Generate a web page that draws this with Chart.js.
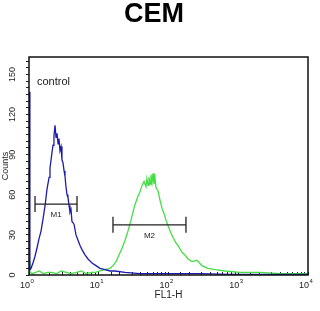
<!DOCTYPE html>
<html>
<head>
<meta charset="utf-8">
<script src="https://cdn.jsdelivr.net/npm/chart.js@4"></script>
<style>
  html, body { margin: 0; padding: 0; background: #fff; }
  #wrap { width: 320px; height: 311px; }
</style>
</head>
<body>
<div id="wrap"><canvas id="histo" width="320" height="311"></canvas></div>
<script>
// control (blue) histogram, FL1-H channel value vs counts
const controlX = [1, 1.03, 1.07, 1.14, 1.22, 1.3, 1.39, 1.49, 1.59, 1.7, 1.81, 1.94, 2.0, 2.07,
  2.14, 2.21, 2.28, 2.36, 2.44, 2.52, 2.61, 2.69, 2.78, 2.88, 2.97, 3.07, 3.18, 3.28, 3.39,
  3.51, 3.62, 3.75, 3.87, 4.0, 4.13, 4.42, 4.72, 5.04, 5.39, 5.75, 6.35, 7.02, 8.0, 9.13,
  10.4, 12.3, 14.5, 17.1, 23.8, 38.9, 75.2, 145, 283, 763, 2050, 5000, 10000];
const controlCounts = [137, 4, 5, 9, 14, 20, 27, 33, 42, 52, 64, 73, 80, 86,
  92, 97, 104, 112, 103, 106, 98, 102, 93, 96, 86, 84, 78, 74, 66,
  60, 58, 52, 47, 49, 40, 38, 30, 26, 22, 19, 15, 12, 9, 7,
  5, 4, 3, 3, 2, 1, 1, 1, 1, 0.5, 0.5, 0.5, 0.5];

// CEM sample (green) histogram
const sampleX = [1, 1.03, 1.12, 1.25, 1.4, 1.6, 1.85, 2.1, 2.5, 2.9, 3.4, 4.0, 4.8, 5.6, 6.6, 7.8,
  9.0, 10.4, 12.3, 14.5, 16.0, 17.7, 19.5, 21.6, 23.8, 26.3, 29.0, 32.0, 35.3, 38.9,
  41.7, 44.6, 47.5, 49.0, 50.9, 52.5, 54.3, 56.0, 58.0, 60.0, 61.9, 64.0, 66.3, 70.7, 75.5,
  80.6, 86.2, 92.0, 98.3, 105, 116, 128, 141, 156, 172, 190, 217, 256, 302, 368, 464, 647,
  1060, 2050, 3970, 7700, 10000];
const sampleCounts = [10, 2, 1, 2, 3, 1, 2, 2, 1, 3, 2, 1, 2, 3, 1, 2,
  2, 3, 4, 5, 7, 10, 15, 20, 26, 33, 41, 50, 57, 62,
  67, 70, 66, 72, 67, 73, 68, 75, 69, 76, 68, 73, 65, 63, 56,
  50, 46, 41, 37, 33, 28, 24, 21, 17, 15, 12, 10, 11, 7, 5, 4, 3,
  2, 2, 1, 1, 1];

// marker gates
const markerNames = ["M1", "M2"];
const markerStart = [1.22, 16];
const markerEnd = [4.88, 178];
const markerLevel = [53, 37.5];

const yLabels = [0, 30, 60, 90, 120, 150];
const xDecades = [0, 1, 2, 3, 4];

const overlay = {
  id: "overlay",
  afterDraw(chart) {
    const { ctx, chartArea: a, scales } = chart;
    const x = scales.x, y = scales.y;
    ctx.save();

    // frame
    ctx.strokeStyle = "#111";
    ctx.lineWidth = 1.5;
    ctx.strokeRect(a.left, a.top, a.right - a.left, a.bottom - a.top);

    // y tick labels, rotated
    ctx.fillStyle = "#222";
    ctx.font = "9px 'Liberation Sans', Arial, sans-serif";
    ctx.textAlign = "center";
    ctx.textBaseline = "middle";
    yLabels.forEach((v) => {
      ctx.save();
      ctx.translate(13, y.getPixelForValue(v));
      ctx.rotate(-Math.PI / 2);
      ctx.fillText(String(v), 0, 0);
      ctx.restore();
    });

    // x tick labels 10^n
    xDecades.forEach((p) => {
      const px = x.getPixelForValue(Math.pow(10, p));
      ctx.font = "9px 'Liberation Sans', Arial, sans-serif";
      ctx.textAlign = "right";
      ctx.fillText("10", px + 1, 286);
      ctx.font = "6px 'Liberation Sans', Arial, sans-serif";
      ctx.textAlign = "left";
      ctx.fillText(String(p), px + 1.5, 281);
    });

    // gates
    ctx.strokeStyle = "#222";
    ctx.lineWidth = 1.3;
    markerNames.forEach((name, i) => {
      const x1 = x.getPixelForValue(markerStart[i]);
      const x2 = x.getPixelForValue(markerEnd[i]);
      const py = y.getPixelForValue(markerLevel[i]);
      ctx.beginPath();
      ctx.moveTo(x1, py); ctx.lineTo(x2, py);
      ctx.moveTo(x1, py - 8); ctx.lineTo(x1, py + 8);
      ctx.moveTo(x2, py - 8); ctx.lineTo(x2, py + 8);
      ctx.stroke();
      ctx.font = "8px 'Liberation Sans', Arial, sans-serif";
      ctx.textAlign = "center";
      ctx.fillText(name, (x1 + x2) / 2, py + 11);
    });

    // panel label
    ctx.font = "11px 'Liberation Sans', Arial, sans-serif";
    ctx.textAlign = "left";
    ctx.fillText("control", a.left + 8, a.top + 25);
    ctx.restore();
  },
};

new Chart(document.getElementById("histo"), {
  type: "line",
  data: {
    datasets: [
      {
        label: "control",
        data: controlX.map((v, i) => ({ x: v, y: controlCounts[i] })),
        borderColor: "#1c1ca8",
        borderWidth: 1.3,
        pointRadius: 0,
        tension: 0,
      },
      {
        label: "CEM",
        data: sampleX.map((v, i) => ({ x: v, y: sampleCounts[i] })),
        borderColor: "#44dd44",
        borderWidth: 1.3,
        pointRadius: 0,
        tension: 0,
      },
    ],
  },
  options: {
    responsive: false,
    animation: false,
    layout: { padding: { left: 0, right: 12, top: 0, bottom: 0 } },
    plugins: {
      legend: { display: false },
      tooltip: { enabled: false },
      title: {
        display: true,
        text: "CEM",
        color: "#000",
        font: { family: "'Liberation Sans', Arial, sans-serif", size: 27, weight: "bold", lineHeight: 1.1 },
        padding: { top: 0, bottom: 27.3 },
      },
    },
    scales: {
      x: {
        type: "logarithmic",
        min: 1,
        max: 10000,
        border: { display: false },
        grid: { drawOnChartArea: false, drawTicks: true, tickLength: -3, color: "#222" },
        ticks: { display: false, autoSkip: false },
        title: {
          display: true,
          text: "FL1-H",
          color: "#222",
          font: { family: "'Liberation Sans', Arial, sans-serif", size: 10 },
          padding: { top: 10, bottom: 10 },
        },
        afterFit(scale) { scale.height = 36; },
      },
      y: {
        min: 0,
        max: 163,
        border: { display: false },
        grid: { drawOnChartArea: false, drawTicks: true, tickLength: 3, color: "#222" },
        ticks: { display: false, stepSize: 5, includeBounds: false },
        title: {
          display: true,
          text: "Counts",
          color: "#222",
          font: { family: "'Liberation Sans', Arial, sans-serif", size: 9 },
          padding: { top: 0, bottom: 0 },
        },
        afterFit(scale) { scale.width = 29; },
      },
    },
  },
  plugins: [overlay],
});
</script>
</body>
</html>
